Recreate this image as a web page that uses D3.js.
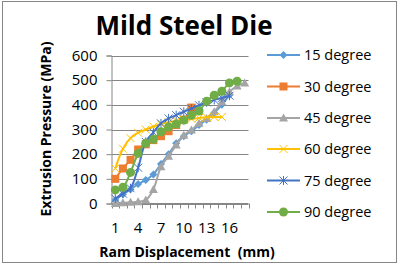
<!DOCTYPE html>
<html><head><meta charset="utf-8">
<script src="https://cdn.jsdelivr.net/npm/d3@7"></script>
<style>
html,body{margin:0;padding:0;background:#fff;}
svg{display:block;font-family:"Open Sans", Lato, sans-serif;}
text{white-space:pre;}
</style></head>
<body>
<svg id="chart" width="401" height="267"></svg>
<script>
const title = "Mild Steel Die";
const xTitle = "Ram Displacement  (mm)";
const yTitle = "Extrusion Pressure (MPa)";
const categories = [1,2,3,4,5,6,7,8,9,10,11,12,13,14,15,16,17,18];
const xTickLabels = [1,4,7,10,13,16];
const yTicks = [0,100,200,300,400,500,600];
const seriesNames = ["15 degree","30 degree","45 degree","60 degree","75 degree","90 degree"];
const seriesColors = ["#5B9BD5","#ED7D31","#A5A5A5","#FFC000","#4472C4","#70AD47"];
const seriesMarkers = ["diamond","square","triangle","x","asterisk","circle"];
const s15 = [14, 38, 57, 79, 95, 118, 160, 200, 244, 273, 293, 318, 340, 368, 400, 440];
const s30 = [100, 142, 177, 219, 240, 257, 273, 293, 318, 340, 389];
const s45 = [0, 3, 5, 7, 14, 57, 149, 192, 237, 277, 298, 325, 345, 372, 412, 453, 476, 489];
const s60 = [142, 222, 265, 287, 300, 312, 322, 330, 336, 340, 343, 347, 350, 351, 351];
const s75 = [20, 40, 62, 145, 250, 288, 325, 345, 358, 372, 385, 398, 410, 420, 428, 437];
const s90 = [55, 66, 126, 203, 244, 260, 291, 310, 322, 338, 358, 375, 415, 439, 455, 489, 496];
const seriesValues = [s15, s30, s45, s60, s75, s90];

const FONT = '"Open Sans", Lato, sans-serif';
const svg = d3.select("#chart");
// outer border
svg.append("rect").attr("x",2.5).attr("y",1.5).attr("width",394).attr("height",261)
  .attr("fill","#fff").attr("stroke","#868686").attr("stroke-width",1);

const plot = {left:111.5, right:248.5, top:55.5, bottom:203.5};
const x = d3.scaleBand().domain(categories).range([plot.left, plot.right]);
const y = d3.scaleLinear().domain([0,600]).range([plot.bottom, plot.top]);

// gridlines
svg.append("g").selectAll("line").data(yTicks).join("line")
  .attr("x1",plot.left).attr("x2",plot.right)
  .attr("y1",d=>Math.round(y(d))+0.5).attr("y2",d=>Math.round(y(d))+0.5)
  .attr("stroke","#868686").attr("stroke-width",1);

// y axis
const yAxis = d3.axisLeft(y).tickValues(yTicks).tickSize(5).tickPadding(9);
const ya = svg.append("g").attr("transform",`translate(${plot.left},0)`).call(yAxis);
ya.select(".domain").attr("stroke","#868686");
ya.selectAll(".tick line").attr("stroke","#868686");
ya.selectAll(".tick text").attr("font-size",15).attr("fill","#000").attr("font-family",FONT);

// x axis
const xAxis = d3.axisBottom(x).tickSize(0).tickFormat(d => xTickLabels.includes(d) ? d : "").tickPadding(19);
const xa = svg.append("g").attr("transform",`translate(0,${plot.bottom})`).call(xAxis);
xa.select(".domain").remove();
xa.selectAll(".tick text").attr("font-size",15).attr("fill","#000").attr("font-family",FONT);
svg.append("line").attr("x1",plot.left).attr("x2",plot.right).attr("y1",plot.bottom).attr("y2",plot.bottom)
  .attr("stroke","#868686");
const bounds = categories.map(c => x(c)).concat([plot.right]);
svg.selectAll("line.xtick").data(bounds).join("line")
  .attr("x1",d=>Math.round(d)+0.5).attr("x2",d=>Math.round(d)+0.5)
  .attr("y1",plot.bottom).attr("y2",plot.bottom+5).attr("stroke","#868686");

// series
const cx = i => x(categories[i]) + x.bandwidth()/2;
const line = d3.line().x((d,i)=>cx(i)).y(d=>y(d)).curve(d3.curveCatmullRom.alpha(0.5));

function marker(sel, type, color){
  const s = 4;
  if(type==="diamond"){
    sel.append("path").attr("d",`M0,${-s}L${s},0L0,${s}L${-s},0Z`).attr("fill",color);
  } else if(type==="square"){
    sel.append("rect").attr("x",-4).attr("y",-4).attr("width",8).attr("height",8).attr("fill",color);
  } else if(type==="triangle"){
    sel.append("path").attr("d",`M0,-4.5L4.5,3.5L-4.5,3.5Z`).attr("fill",color);
  } else if(type==="x"){
    sel.append("path").attr("d",`M-4,-4L4,4M-4,4L4,-4`).attr("stroke",color).attr("stroke-width",1).attr("fill","none");
  } else if(type==="asterisk"){
    sel.append("path").attr("d",`M-4,-4L4,4M-4,4L4,-4M0,-4.5L0,4.5`).attr("stroke",color).attr("stroke-width",1).attr("fill","none");
  } else if(type==="circle"){
    sel.append("circle").attr("r",4.5).attr("fill",color);
  }
}

seriesValues.forEach((vals, k) => {
  const color = seriesColors[k];
  svg.append("path").datum(vals).attr("d",line).attr("fill","none")
    .attr("stroke",color).attr("stroke-width",2).attr("stroke-linejoin","round");
  const mg = svg.append("g");
  vals.forEach((v,i) => {
    const m = mg.append("g").attr("transform",`translate(${cx(i)},${y(v)})`);
    marker(m, seriesMarkers[k], color);
  });
});

// title
svg.append("text").attr("x",184).attr("y",35).attr("text-anchor","middle")
  .attr("font-size",26).attr("font-weight","bold").attr("font-family",FONT).attr("fill","#000").text(title);

// axis titles
svg.append("text").attr("x",187).attr("y",257).attr("text-anchor","middle")
  .attr("font-size",14).attr("font-weight","bold").attr("font-family",FONT).attr("fill","#000").text(xTitle);
svg.append("text").attr("transform","translate(51,129) rotate(-90)").attr("text-anchor","middle")
  .attr("font-size",14).attr("font-weight","bold").attr("font-family",FONT).attr("fill","#000").text(yTitle);

// legend
const legY = [55, 86.5, 118, 149, 180.5, 212];
seriesNames.forEach((name,k) => {
  const lg = svg.append("g").attr("transform",`translate(0,${legY[k]})`);
  lg.append("line").attr("x1",267).attr("x2",300).attr("y1",0).attr("y2",0)
    .attr("stroke",seriesColors[k]).attr("stroke-width",2);
  const m = lg.append("g").attr("transform","translate(283.5,0)");
  marker(m, seriesMarkers[k], seriesColors[k]);
  lg.append("text").attr("x",304).attr("y",0).attr("dy","0.35em")
    .attr("font-size",14.5).attr("font-family",FONT).attr("fill","#000").text(name);
});
</script>
</body></html>
